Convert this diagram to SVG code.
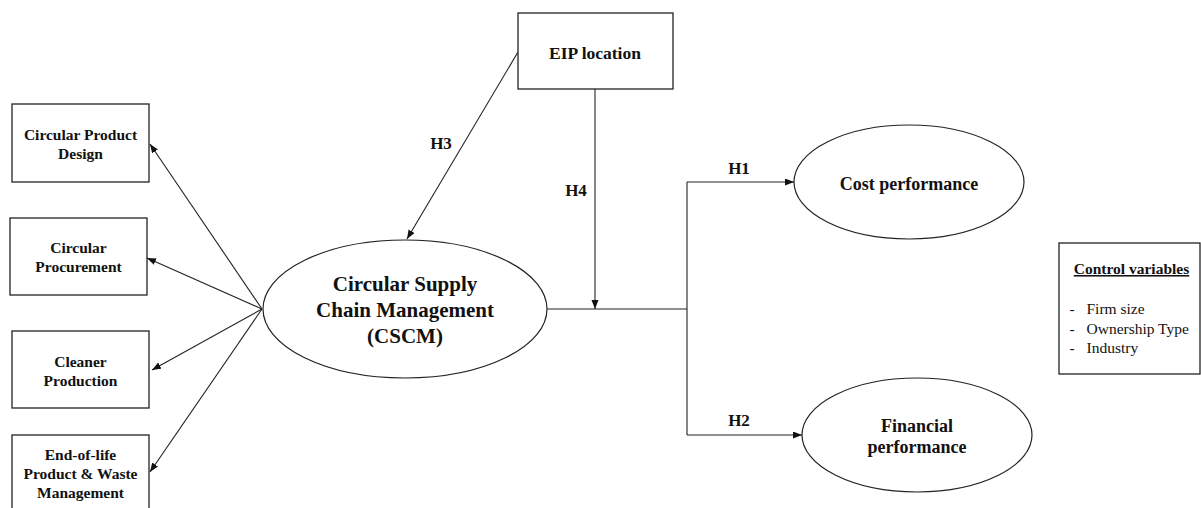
<svg xmlns="http://www.w3.org/2000/svg" width="1201" height="508" viewBox="0 0 1201 508">
<defs>
<style>
.box{fill:#fff;stroke:#222;stroke-width:1.3}
.ell{fill:#fff;stroke:#222;stroke-width:1.2}
.ln{fill:none;stroke:#222;stroke-width:1.1}
.t{font-family:"Liberation Serif","Times New Roman",serif;font-weight:bold;fill:#111;text-anchor:middle}
.s{font-size:15.5px}
.r{font-family:"Liberation Serif","Times New Roman",serif;font-size:15.5px;fill:#111}
</style>
<marker id="ah" markerUnits="userSpaceOnUse" markerWidth="10" markerHeight="8" refX="9" refY="3.5" orient="auto">
<path d="M0,0 L9,3.5 L0,7 z" fill="#111"/>
</marker>
</defs>
<rect width="1201" height="508" fill="#fff"/>
<g id="connectors">
<line class="ln" x1="262" y1="309" x2="150" y2="144" marker-end="url(#ah)"/>
<line class="ln" x1="262" y1="309" x2="147" y2="258" marker-end="url(#ah)"/>
<line class="ln" x1="262" y1="309" x2="152" y2="370" marker-end="url(#ah)"/>
<line class="ln" x1="262" y1="309" x2="150" y2="472" marker-end="url(#ah)"/>
<line class="ln" x1="518" y1="52" x2="407" y2="239" marker-end="url(#ah)"/>
<line class="ln" x1="595" y1="89" x2="595" y2="309" marker-end="url(#ah)"/>
<line class="ln" x1="547" y1="309" x2="687" y2="309"/>
<line class="ln" x1="687" y1="182" x2="687" y2="435"/>
<line class="ln" x1="687" y1="182" x2="794" y2="182" marker-end="url(#ah)"/>
<line class="ln" x1="687" y1="435" x2="802" y2="435" marker-end="url(#ah)"/>
<text class="t" x="441" y="149" font-size="17">H3</text>
<text class="t" x="576" y="196" font-size="17">H4</text>
<text class="t" x="739" y="174" font-size="17">H1</text>
<text class="t" x="739" y="426" font-size="17">H2</text>
</g>
<g id="cpd">
<rect class="box" x="12" y="104" width="137" height="78"/>
<text class="t s" x="80.5" y="140">Circular Product</text>
<text class="t s" x="80.5" y="159">Design</text>
</g>
<g id="cp">
<rect class="box" x="10" y="218" width="137" height="77"/>
<text class="t s" x="78.5" y="253">Circular</text>
<text class="t s" x="78.5" y="272">Procurement</text>
</g>
<g id="cleaner">
<rect class="box" x="12" y="331" width="137" height="77"/>
<text class="t s" x="80.5" y="366.5">Cleaner</text>
<text class="t s" x="80.5" y="385.5">Production</text>
</g>
<g id="eol">
<rect class="box" x="12" y="435" width="137" height="80"/>
<text class="t s" x="80.5" y="460">End-of-life</text>
<text class="t s" x="80.5" y="479">Product &amp; Waste</text>
<text class="t s" x="80.5" y="498">Management</text>
</g>
<g id="cscm">
<ellipse class="ell" cx="405" cy="309" rx="142" ry="69"/>
<text class="t" x="405" y="291" font-size="21">Circular Supply</text>
<text class="t" x="405" y="317" font-size="21">Chain Management</text>
<text class="t" x="405" y="343" font-size="21">(CSCM)</text>
</g>
<g id="eip">
<rect class="box" x="518" y="13" width="155" height="76"/>
<text class="t" x="595" y="59" font-size="17.5">EIP location</text>
</g>
<g id="cost">
<ellipse class="ell" cx="909" cy="182" rx="115" ry="57"/>
<text class="t" x="909" y="190" font-size="18">Cost performance</text>
</g>
<g id="fin">
<ellipse class="ell" cx="917" cy="435" rx="115" ry="57"/>
<text class="t" x="917" y="431.5" font-size="18">Financial</text>
<text class="t" x="917" y="453" font-size="18">performance</text>
</g>
<g id="controls">
<rect class="box" x="1059" y="243" width="141" height="131"/>
<text class="t" x="1131.5" y="274" font-size="15.5" text-decoration="underline">Control variables</text>
<text class="r" x="1069.5" y="314">-</text>
<text class="r" x="1086.5" y="314">Firm size</text>
<text class="r" x="1069.5" y="333.5">-</text>
<text class="r" x="1086.5" y="333.5">Ownership Type</text>
<text class="r" x="1069.5" y="353">-</text>
<text class="r" x="1086.5" y="353">Industry</text>
</g>
</svg>
